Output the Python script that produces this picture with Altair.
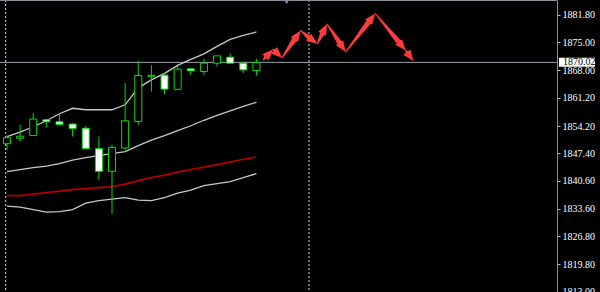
import math
import altair as alt
import pandas as pd

# ---- candle data (index, OHLC) ----
opens = [1849.81, 1851.17, 1851.86, 1855.76, 1855.26, 1854.69, 1853.65, 1848.57, 1842.94, 1848.74,
         1855.34, 1866.55, 1866.84, 1863.32, 1868.41, 1867.74, 1869.82, 1871.31, 1869.82, 1867.99]
highs = [1851.79, 1854.52, 1857.42, 1856.01, 1857.42, 1854.94, 1854.27, 1851.62, 1849.56, 1864.86,
         1870.39, 1869.27, 1867.34, 1869.15, 1868.53, 1870.89, 1871.63, 1872.30, 1870.22, 1870.89]
lows = [1848.32, 1850.30, 1851.79, 1853.85, 1854.27, 1851.62, 1848.57, 1840.88, 1832.32, 1848.32,
        1854.52, 1862.78, 1862.13, 1863.20, 1866.92, 1866.92, 1868.98, 1869.82, 1867.34, 1866.75]
closes = [1851.29, 1851.67, 1855.93, 1855.26, 1854.59, 1853.60, 1848.57, 1842.94, 1848.89, 1855.51,
          1866.75, 1866.79, 1863.37, 1868.33, 1867.91, 1869.82, 1871.63, 1869.82, 1868.16, 1870.02]

# ---- indicator lines ----
band_upper = [1851.54, 1852.66, 1854.02, 1855.51, 1857.25, 1858.61, 1858.24, 1858.24, 1858.24, 1859.48,
              1863.69, 1865.68, 1867.29, 1869.27, 1870.76, 1872.13, 1873.99, 1875.72, 1876.72, 1877.58]
band_mid = [1842.86, 1843.36, 1843.85, 1844.23, 1844.85, 1845.71, 1846.33, 1846.83, 1847.33, 1847.82,
            1849.31, 1850.67, 1851.79, 1853.03, 1854.27, 1855.63, 1856.87, 1857.99, 1859.11, 1860.10]
band_lower = [1834.30, 1834.06, 1833.44, 1832.82, 1832.94, 1833.44, 1835.05, 1835.67, 1836.04, 1836.41,
              1835.79, 1835.67, 1836.41, 1837.53, 1838.27, 1839.39, 1839.88, 1840.38, 1841.37, 1842.36]
ma_red = [1836.91, 1836.91, 1837.28, 1837.65, 1838.02, 1838.40, 1838.64, 1838.89, 1839.14, 1839.76,
          1840.63, 1841.37, 1841.99, 1842.74, 1843.36, 1843.98, 1844.60, 1845.22, 1845.96, 1846.46]

# ---- forecast arrow path (index, price) ----
arrow_idx = [19.52, 20.27, 20.94, 22.36, 23.63, 24.38, 25.80, 28.05, 30.37, 30.96]
arrow_price = [1870.64, 1873.29, 1871.14, 1877.91, 1874.61, 1879.57, 1872.62, 1882.17, 1873.00, 1870.39]

# ---- axis / misc ----
y_ticks = [1881.80, 1875.00, 1868.00, 1861.20, 1854.20, 1847.40, 1840.60, 1833.60, 1826.80, 1819.80, 1813.00]
current_price = 1870.02
separators = [-0.1, 23.0]
shift_marker = 21.3

X_DOMAIN = [-0.15, 41.51]
Y_DOMAIN = [1812.95, 1885.52]
W, H = 557, 292

GREEN = "#00e000"
SILVER = "#c8c8c8"
RED = "#b40000"
ARROW = "#ff3c3c"
FONT = "Liberation Sans Narrow"

xs = alt.Scale(domain=X_DOMAIN, nice=False, zero=False)
ys = alt.Scale(domain=Y_DOMAIN, nice=False, zero=False)
yaxis = alt.Axis(orient="right", values=y_ticks, format=".2f", title="", grid=False,
                 labelColor="white", labelFont=FONT, labelFontSize=10, labelPadding=2,
                 tickColor="#c0c0c0", tickSize=3, domainColor="#909090", labelOverlap=False,
                 labelFlush=False)


def X(f):
    return alt.X(f, scale=xs, axis=None)


def Y(f):
    return alt.Y(f, scale=ys, axis=yaxis)


candles = pd.DataFrame({"i": list(range(len(opens))), "open": opens, "high": highs,
                        "low": lows, "close": closes})

lines_rows = []
for name, vals in [("upper", band_upper), ("mid", band_mid), ("lower", band_lower)]:
    for k, v in enumerate(vals):
        lines_rows.append({"i": k, "price": v, "series": name})
white_lines = pd.DataFrame(lines_rows)
red_line = pd.DataFrame({"i": list(range(len(ma_red))), "price": ma_red})

# arrows
sx = W / (X_DOMAIN[1] - X_DOMAIN[0])
sy = H / (Y_DOMAIN[1] - Y_DOMAIN[0])
HEAD_LEN = 11.0
trail_rows, head_rows = [], []
for k in range(len(arrow_idx) - 1):
    x0, p0 = arrow_idx[k], arrow_price[k]
    x1, p1 = arrow_idx[k + 1], arrow_price[k + 1]
    dxp = (x1 - x0) * sx
    dyp = -(p1 - p0) * sy
    L = math.hypot(dxp, dyp)
    f = max(0.0, (L - HEAD_LEN * 0.75) / L)
    trail_rows.append({"i": x0, "price": p0, "w": 0.0, "seg": k})
    trail_rows.append({"i": x0 + f * (x1 - x0), "price": p0 + f * (p1 - p0), "w": 1.0, "seg": k})
    ang = math.degrees(math.atan2(dxp, -dyp)) % 360
    head_rows.append({"i": x1, "price": p1, "ang": ang})
trails = pd.DataFrame(trail_rows)
heads = pd.DataFrame(head_rows)

layers = []

layers.append(alt.Chart(pd.DataFrame({"i": separators})).mark_rule(
    color="#d8d8d8", strokeDash=[2, 2], strokeWidth=1).encode(x=X("i:Q")))

layers.append(alt.Chart(pd.DataFrame({"price": [current_price]})).mark_rule(
    color="#9aa2ac", strokeWidth=1).encode(y=Y("price:Q")))

layers.append(alt.Chart(white_lines).mark_line(color=SILVER, strokeWidth=1.3).encode(
    x=X("i:Q"), y=Y("price:Q"), detail="series:N"))
layers.append(alt.Chart(red_line).mark_line(color=RED, strokeWidth=1.6).encode(
    x=X("i:Q"), y=Y("price:Q")))

layers.append(alt.Chart(candles).mark_rule(color=GREEN, strokeWidth=1).encode(
    x=X("i:Q"), y=Y("low:Q"), y2="high:Q"))
layers.append(alt.Chart(candles).mark_bar(size=7, stroke=GREEN, strokeWidth=1).encode(
    x=X("i:Q"), y=Y("open:Q"), y2="close:Q",
    fill=alt.condition("datum.close >= datum.open", alt.value("black"), alt.value("white"))))

layers.append(alt.Chart(trails).mark_trail(color=ARROW).encode(
    x=X("i:Q"), y=Y("price:Q"), detail="seg:N", order="w:Q",
    size=alt.Size("w:Q", scale=alt.Scale(domain=[0, 1], range=[1, 5.5]), legend=None)))
layers.append(alt.Chart(heads).mark_point(
    shape="M0,0L-0.8,2L0.8,2Z", filled=True, size=121, color=ARROW, opacity=1).encode(
    x=X("i:Q"), y=Y("price:Q"), angle=alt.Angle("ang:Q", scale=None)))

# top border and shift marker
layers.append(alt.Chart(pd.DataFrame({"a": [0]})).mark_rule(color="#8a8f96", strokeWidth=1).encode(
    x=alt.value(0), x2=alt.value(W), y=alt.value(0.5)))
layers.append(alt.Chart(pd.DataFrame({"i": [shift_marker]})).mark_point(
    shape="triangle-down", filled=True, size=40, color="#7d8fa3", opacity=1).encode(
    x=X("i:Q"), y=alt.value(1.5)))

# current price box on axis
layers.append(alt.Chart(pd.DataFrame({"price": [current_price]})).mark_rect(
    color="white", yOffset=-4.5, y2Offset=4.5).encode(
    x=alt.value(559), x2=alt.value(595), y=Y("price:Q"), y2="price:Q"))
layers.append(alt.Chart(pd.DataFrame({"price": [current_price], "t": ["1870.02"]})).mark_text(
    color="black", font=FONT, fontSize=10, align="left", baseline="middle").encode(
    x=alt.value(563), y=Y("price:Q"), text="t:N"))

chart = alt.layer(*layers).properties(
    width=W, height=H,
    autosize=alt.AutoSizeParams(type="none"),
    padding={"left": 0, "top": 0, "right": 43, "bottom": 0},
    background="black",
).configure_view(stroke=None, fill="black")

chart.save("out.html", embed_options={"renderer": "svg", "actions": False})
